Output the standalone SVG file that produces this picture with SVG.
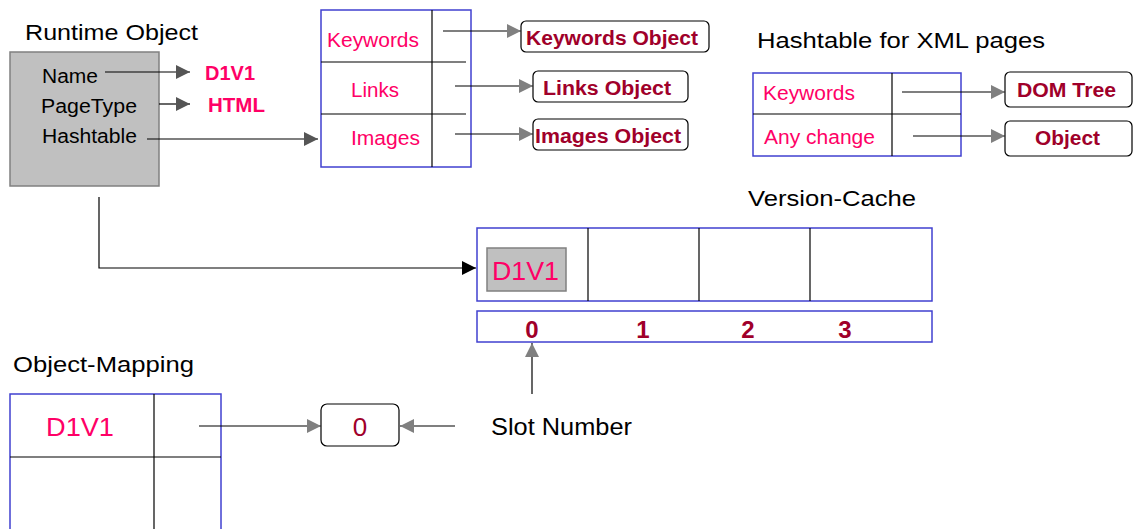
<svg xmlns="http://www.w3.org/2000/svg" width="1133" height="529" viewBox="0 0 1133 529">
  <style>
    text { font-family: "Liberation Sans", Arial, sans-serif; }
    .title { font-size: 22px; fill: #000; }
    .label { font-size: 20px; fill: #000; }
    .key { font-size: 20px; fill: #ff0066; }
    .big { font-size: 26px; fill: #ff0066; }
    .obj { font-size: 20px; font-weight: bold; fill: #a0002a; }
    .num { font-size: 24px; font-weight: bold; fill: #a0002a; }
    .tbl { fill: #fff; stroke: #4040d0; stroke-width: 1.5; }
    .div { stroke: #000; stroke-width: 1.2; fill: none; }
    .rbox { fill: #fff; stroke: #000; stroke-width: 1.2; }
    .gray { fill: #c0c0c0; stroke: #808080; stroke-width: 1.5; }
    .link { stroke: #000; stroke-width: 1.2; fill: none; }
  </style>
  <defs>
    <marker id="ag" markerWidth="14" markerHeight="14" refX="14" refY="7" orient="auto" markerUnits="userSpaceOnUse">
      <path d="M0,0 L14,7 L0,14 Z" fill="#808080"/>
    </marker>
    <marker id="ad" markerWidth="14" markerHeight="14" refX="14" refY="7" orient="auto" markerUnits="userSpaceOnUse">
      <path d="M0,0 L14,7 L0,14 Z" fill="#555"/>
    </marker>
    <marker id="ab" markerWidth="14" markerHeight="14" refX="14" refY="7" orient="auto" markerUnits="userSpaceOnUse">
      <path d="M0,0 L14,7 L0,14 Z" fill="#000"/>
    </marker>
  </defs>

  <!-- Runtime object -->
  <g id="runtime-object">
    <text class="title" x="25" y="40" textLength="173" lengthAdjust="spacingAndGlyphs">Runtime Object</text>
    <rect class="gray" x="10" y="52" width="149" height="134"/>
    <text class="label" x="42" y="83" textLength="56" lengthAdjust="spacingAndGlyphs">Name</text>
    <text class="label" x="41" y="113" textLength="96" lengthAdjust="spacingAndGlyphs">PageType</text>
    <text class="label" x="42" y="143" textLength="95" lengthAdjust="spacingAndGlyphs">Hashtable</text>
  </g>
  <g id="name-value">
    <text class="key" x="205" y="80" style="font-weight:bold" textLength="50" lengthAdjust="spacingAndGlyphs">D1V1</text>
  </g>
  <g id="type-value">
    <text class="key" x="208" y="112" style="font-weight:bold" textLength="57" lengthAdjust="spacingAndGlyphs">HTML</text>
  </g>

  <!-- Hashtable of the page -->
  <g id="page-hashtable">
    <rect class="tbl" x="321" y="10" width="150" height="157"/>
    <line class="div" x1="432" y1="10" x2="432" y2="167"/>
    <line class="div" x1="321" y1="62" x2="466" y2="62"/>
    <line class="div" x1="321" y1="114" x2="466" y2="114"/>
    <text class="key" x="327" y="47" textLength="92" lengthAdjust="spacingAndGlyphs">Keywords</text>
    <text class="key" x="351" y="97" textLength="48" lengthAdjust="spacingAndGlyphs">Links</text>
    <text class="key" x="351" y="145" textLength="69" lengthAdjust="spacingAndGlyphs">Images</text>
  </g>
  <g id="keywords-object">
    <rect class="rbox" x="521" y="21" width="188" height="31" rx="5"/>
    <text class="obj" x="526" y="45" textLength="172" lengthAdjust="spacingAndGlyphs">Keywords Object</text>
  </g>
  <g id="links-object">
    <rect class="rbox" x="533" y="71" width="155" height="31" rx="5"/>
    <text class="obj" x="543" y="95" textLength="128" lengthAdjust="spacingAndGlyphs">Links Object</text>
  </g>
  <g id="images-object">
    <rect class="rbox" x="533" y="119" width="155" height="31" rx="5"/>
    <text class="obj" x="535" y="143" textLength="146" lengthAdjust="spacingAndGlyphs">Images Object</text>
  </g>

  <!-- Hashtable for XML pages -->
  <g id="xml-hashtable">
    <text class="title" x="757" y="48" textLength="288" lengthAdjust="spacingAndGlyphs">Hashtable for XML pages</text>
    <rect class="tbl" x="753" y="73" width="208" height="83"/>
    <line class="div" x1="892" y1="73" x2="892" y2="156"/>
    <line class="div" x1="753" y1="114" x2="961" y2="114"/>
    <text class="key" x="763" y="100" textLength="92" lengthAdjust="spacingAndGlyphs">Keywords</text>
    <text class="key" x="764" y="144" textLength="111" lengthAdjust="spacingAndGlyphs">Any change</text>
  </g>
  <g id="dom-tree">
    <rect class="rbox" x="1005" y="72" width="127" height="35" rx="5"/>
    <text class="obj" x="1017" y="97" textLength="99" lengthAdjust="spacingAndGlyphs">DOM Tree</text>
  </g>
  <g id="xml-object">
    <rect class="rbox" x="1005" y="121" width="127" height="35" rx="5"/>
    <text class="obj" x="1035" y="145" textLength="65" lengthAdjust="spacingAndGlyphs">Object</text>
  </g>

  <!-- Version cache -->
  <g id="version-cache">
    <text class="title" x="748" y="206" textLength="168" lengthAdjust="spacingAndGlyphs">Version-Cache</text>
    <rect class="tbl" x="477" y="228" width="455" height="73"/>
    <line class="div" x1="588" y1="228" x2="588" y2="301"/>
    <line class="div" x1="699" y1="228" x2="699" y2="301"/>
    <line class="div" x1="810" y1="228" x2="810" y2="301"/>
    <rect class="gray" x="487" y="248" width="79" height="43"/>
    <text class="big" x="492" y="280" textLength="67" lengthAdjust="spacingAndGlyphs">D1V1</text>
  </g>
  <g id="slot-bar">
    <rect class="tbl" x="477" y="311" width="455" height="31"/>
    <text class="num" x="532" y="338" text-anchor="middle">0</text>
    <text class="num" x="643" y="338" text-anchor="middle">1</text>
    <text class="num" x="748" y="338" text-anchor="middle">2</text>
    <text class="num" x="845" y="338" text-anchor="middle">3</text>
  </g>

  <!-- Object mapping -->
  <g id="object-mapping">
    <text class="title" x="13" y="372" textLength="181" lengthAdjust="spacingAndGlyphs">Object-Mapping</text>
    <rect class="tbl" x="10" y="394" width="211" height="140"/>
    <line class="div" x1="154" y1="394" x2="154" y2="529"/>
    <line class="div" x1="10" y1="457" x2="221" y2="457"/>
    <text class="big" x="46" y="436" textLength="68" lengthAdjust="spacingAndGlyphs">D1V1</text>
  </g>
  <g id="slot-value">
    <rect class="rbox" x="321" y="404" width="78" height="42" rx="6"/>
    <text x="360" y="436" text-anchor="middle" style="font-size:26px" fill="#a0002a">0</text>
  </g>
  <g id="slot-number">
    <text x="491" y="435" style="font-size:24px" textLength="141" lengthAdjust="spacingAndGlyphs">Slot Number</text>
  </g>

  <!-- Connectors -->
  <g id="connectors">
    <line class="link" x1="105" y1="72" x2="190" y2="72" marker-end="url(#ad)"/>
    <line class="link" x1="159" y1="104" x2="190" y2="104" marker-end="url(#ad)"/>
    <line class="link" x1="147" y1="139" x2="318" y2="139" marker-end="url(#ad)"/>
    <polyline class="link" points="99,197 99,268 476,268" stroke-width="1.5" marker-end="url(#ab)"/>
    <line class="link" x1="443" y1="31" x2="521" y2="31" marker-end="url(#ag)"/>
    <line class="link" x1="455" y1="86" x2="533" y2="86" marker-end="url(#ag)"/>
    <line class="link" x1="455" y1="134" x2="533" y2="134" marker-end="url(#ag)"/>
    <line class="link" x1="902" y1="92" x2="1005" y2="92" marker-end="url(#ag)"/>
    <line class="link" x1="913" y1="136" x2="1005" y2="136" marker-end="url(#ag)"/>
    <line class="link" x1="199" y1="426" x2="321" y2="426" marker-end="url(#ag)"/>
    <line class="link" x1="455" y1="426" x2="400" y2="426" marker-end="url(#ag)"/>
    <line class="link" x1="532" y1="394" x2="532" y2="343" stroke="#666" stroke-width="1.5" marker-end="url(#ag)"/>
  </g>
</svg>
